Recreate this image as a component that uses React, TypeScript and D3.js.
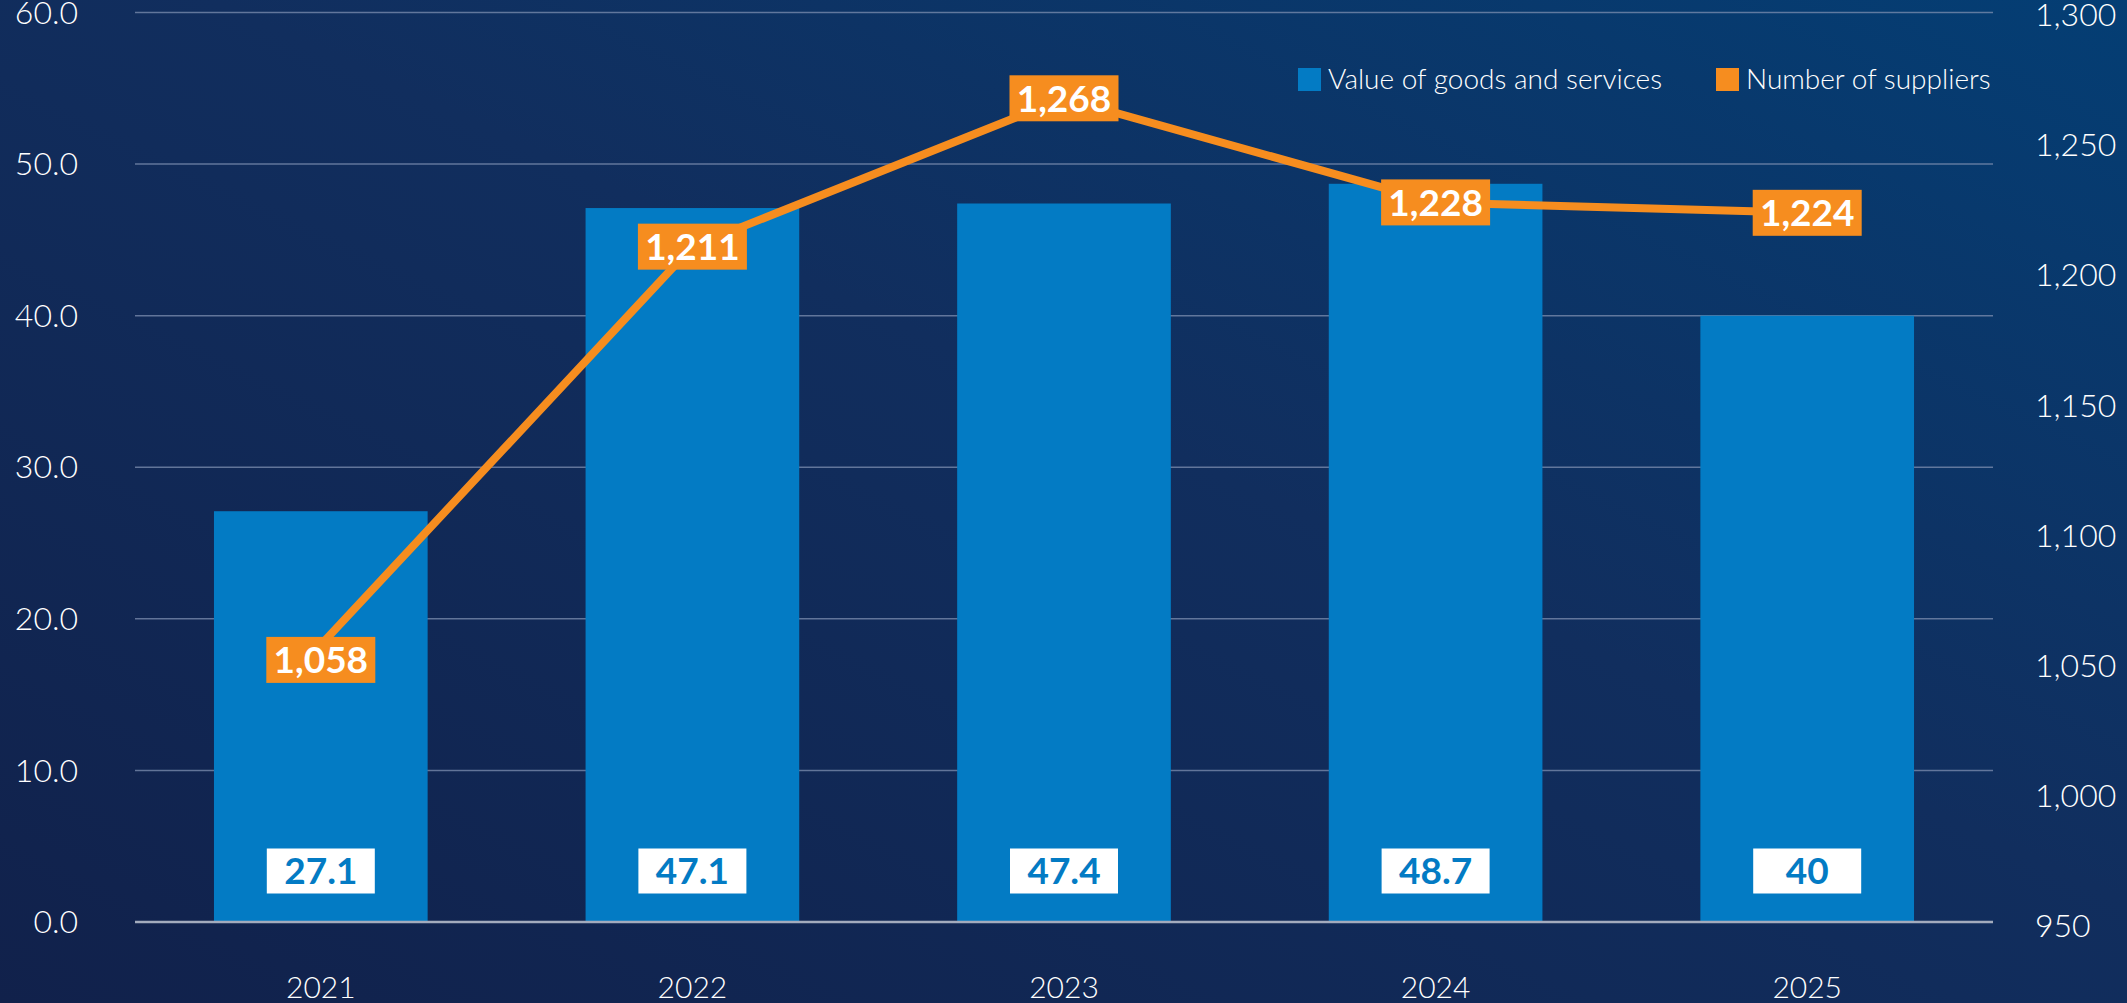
import React, { useEffect, useRef } from "react";
import * as d3 from "d3";

const years = ["2021", "2022", "2023", "2024", "2025"];
const goodsValues = [27.1, 47.1, 47.4, 48.7, 40];
const goodsLabels = ["27.1", "47.1", "47.4", "48.7", "40"];
const supplierCounts = [1058, 1211, 1268, 1228, 1224];
const leftTicks = [0, 10, 20, 30, 40, 50, 60];
const rightTicks = [950, 1000, 1050, 1100, 1150, 1200, 1250, 1300];
const legendItems = ["Value of goods and services", "Number of suppliers"];

const App: React.FC = () => {
  const ref = useRef<SVGSVGElement | null>(null);

  useEffect(() => {
    const width = 2127;
    const height = 1003;
    const left = 135;
    const right = 1993;
    const top = 12.5;
    const bottom = 922;
    const blue = "#037bc4";
    const orange = "#f68d1f";
    const font = "Lato, 'Open Sans', sans-serif";

    const svg = d3.select(ref.current);
    svg.selectAll("*").remove();

    const defs = svg.append("defs");
    const grad = defs
      .append("linearGradient")
      .attr("id", "bg")
      .attr("x1", "0")
      .attr("y1", "1")
      .attr("x2", "1")
      .attr("y2", "0");
    grad.append("stop").attr("offset", "0%").attr("stop-color", "#11214b");
    grad.append("stop").attr("offset", "55%").attr("stop-color", "#112e5e");
    grad.append("stop").attr("offset", "100%").attr("stop-color", "#043e74");

    svg.append("rect").attr("width", width).attr("height", height).attr("fill", "url(#bg)");

    const x = d3
      .scaleBand<string>()
      .domain(years)
      .range([left, right])
      .paddingInner(0.425)
      .paddingOuter(0.2125);

    const yLeft = d3.scaleLinear().domain([0, 60]).range([bottom, top]);
    const yRight = d3.scaleLinear().domain([950, 1300]).range([bottom + 4, top + 2.5]);

    // gridlines
    svg
      .append("g")
      .selectAll("line")
      .data(leftTicks.filter((t) => t > 0))
      .enter()
      .append("line")
      .attr("x1", left)
      .attr("x2", right)
      .attr("y1", (d) => yLeft(d))
      .attr("y2", (d) => yLeft(d))
      .attr("stroke", "#7d8fb0")
      .attr("stroke-opacity", 0.75)
      .attr("stroke-width", 1.5);

    // left axis labels
    svg
      .append("g")
      .selectAll("text")
      .data(leftTicks)
      .enter()
      .append("text")
      .attr("x", 78)
      .attr("y", (d) => yLeft(d))
      .attr("dy", "0.35em")
      .attr("text-anchor", "end")
      .attr("fill", "#ffffff")
      .attr("font-family", font)
      .attr("font-weight", 300)
      .attr("font-size", 32)
      .text((d) => d3.format(".1f")(d));

    // right axis labels
    svg
      .append("g")
      .selectAll("text")
      .data(rightTicks)
      .enter()
      .append("text")
      .attr("x", 2035)
      .attr("y", (d) => yRight(d))
      .attr("dy", "0.35em")
      .attr("text-anchor", "start")
      .attr("fill", "#ffffff")
      .attr("font-family", font)
      .attr("font-weight", 300)
      .attr("font-size", 32)
      .text((d) => d3.format(",")(d));

    // bars
    svg
      .append("g")
      .selectAll("rect")
      .data(goodsValues)
      .enter()
      .append("rect")
      .attr("x", (d, i) => x(years[i]) as number)
      .attr("y", (d) => yLeft(d))
      .attr("width", x.bandwidth())
      .attr("height", (d) => bottom - yLeft(d))
      .attr("fill", blue);

    // baseline
    svg
      .append("line")
      .attr("x1", left)
      .attr("x2", right)
      .attr("y1", bottom)
      .attr("y2", bottom)
      .attr("stroke", "#a3abbd")
      .attr("stroke-width", 2.5);

    // bar value labels
    const barLabels = svg
      .append("g")
      .selectAll("g")
      .data(goodsLabels)
      .enter()
      .append("g")
      .attr("transform", (d, i) => `translate(${(x(years[i]) as number) + x.bandwidth() / 2},${871})`);
    barLabels
      .append("rect")
      .attr("x", -54)
      .attr("y", -22.5)
      .attr("width", 108)
      .attr("height", 45)
      .attr("fill", "#ffffff");
    barLabels
      .append("text")
      .attr("dy", "0.36em")
      .attr("text-anchor", "middle")
      .attr("fill", blue)
      .attr("font-family", font)
      .attr("font-weight", 700)
      .attr("font-size", 37)
      .text((d) => d);

    // x axis labels
    svg
      .append("g")
      .selectAll("text")
      .data(years)
      .enter()
      .append("text")
      .attr("x", (d) => (x(d) as number) + x.bandwidth() / 2)
      .attr("y", 987)
      .attr("dy", "0.35em")
      .attr("text-anchor", "middle")
      .attr("fill", "#ffffff")
      .attr("font-family", font)
      .attr("font-weight", 300)
      .attr("font-size", 30)
      .text((d) => d);

    // supplier line
    const line = d3
      .line<number>()
      .x((d, i) => (x(years[i]) as number) + x.bandwidth() / 2)
      .y((d) => yRight(d));
    svg
      .append("path")
      .datum(supplierCounts)
      .attr("fill", "none")
      .attr("stroke", orange)
      .attr("stroke-width", 8)
      .attr("stroke-linejoin", "round")
      .attr("d", line);

    const supLabels = svg
      .append("g")
      .selectAll("g")
      .data(supplierCounts)
      .enter()
      .append("g")
      .attr(
        "transform",
        (d, i) =>
          `translate(${(x(years[i]) as number) + x.bandwidth() / 2},${yRight(d) + (i === 0 ? 15 : 0)})`
      );
    supLabels
      .append("rect")
      .attr("x", -54.5)
      .attr("y", -23)
      .attr("width", 109)
      .attr("height", 46)
      .attr("fill", orange);
    supLabels
      .append("text")
      .attr("dy", "0.36em")
      .attr("text-anchor", "middle")
      .attr("fill", "#ffffff")
      .attr("font-family", font)
      .attr("font-weight", 700)
      .attr("font-size", 37)
      .text((d) => d3.format(",")(d));

    // legend
    const legendX = [1298, 1716];
    const legendColors = [blue, orange];
    const legend = svg
      .append("g")
      .selectAll("g")
      .data(legendItems)
      .enter()
      .append("g")
      .attr("transform", (d, i) => `translate(${legendX[i]},68)`);
    legend
      .append("rect")
      .attr("width", 23)
      .attr("height", 23)
      .attr("fill", (d, i) => legendColors[i]);
    legend
      .append("text")
      .attr("x", 30)
      .attr("y", 11.5)
      .attr("dy", "0.35em")
      .attr("fill", "#ffffff")
      .attr("font-family", font)
      .attr("font-weight", 300)
      .attr("font-size", 28)
      .text((d) => d);
  }, []);

  return (
    <svg
      ref={ref}
      width={2127}
      height={1003}
      style={{ position: "absolute", left: 0, top: 0, display: "block" }}
    />
  );
};

export default App;
